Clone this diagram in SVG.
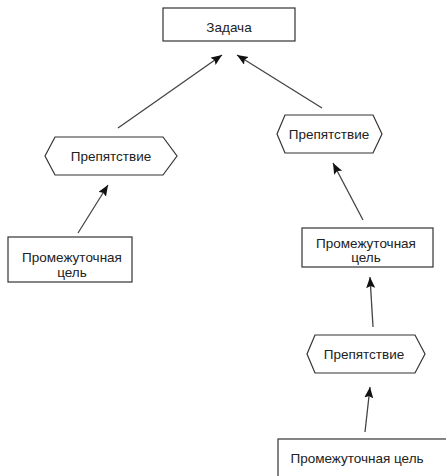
<svg xmlns="http://www.w3.org/2000/svg" width="446" height="476" viewBox="0 0 446 476">
<style>
.shape{fill:#fff;stroke:#333;stroke-width:1.2}
.lbl{font-family:"Liberation Sans",Arial,sans-serif;font-size:13.5px;fill:#222;text-anchor:middle}
.conn{stroke:#444;stroke-width:1.3;fill:none;marker-end:url(#ah)}
</style>
<defs>
<marker id="ah" markerUnits="userSpaceOnUse" markerWidth="12" markerHeight="10" refX="11" refY="4.5" orient="auto">
<path d="M0,0 L11,4.5 L0,9 L2,4.5 z" fill="#111"/>
</marker>
</defs>
<rect width="446" height="476" fill="#fff"/>
<g id="connectors">
<line class="conn" x1="78" y1="233" x2="108" y2="185"/>
<line class="conn" x1="118" y1="128" x2="222" y2="55"/>
<line class="conn" x1="322" y1="108" x2="237" y2="55"/>
<line class="conn" x1="363" y1="220" x2="333" y2="163"/>
<line class="conn" x1="373" y1="327" x2="370" y2="277"/>
<line class="conn" x1="365" y1="432" x2="370" y2="387"/>
</g>
<g id="task">
<rect class="shape" x="163" y="8" width="132" height="33"/>
<text class="lbl" x="229" y="32">Задача</text>
</g>
<g id="obstacle-left">
<polygon class="shape" points="45,156 55,137 163,137 177,156 163,175 55,175"/>
<text class="lbl" x="111" y="161">Препятствие</text>
</g>
<g id="goal-left">
<rect class="shape" x="8" y="237" width="124" height="45"/>
<text class="lbl" x="72" y="262">Промежуточная</text>
<text class="lbl" x="72" y="277">цель</text>
</g>
<g id="obstacle-right">
<polygon class="shape" points="277,134 285,115 373,115 382,134 373,153 285,153"/>
<text class="lbl" x="329" y="139">Препятствие</text>
</g>
<g id="goal-right">
<rect class="shape" x="302" y="228" width="131" height="39"/>
<text class="lbl" x="366" y="248">Промежуточная</text>
<text class="lbl" x="366" y="262">цель</text>
</g>
<g id="obstacle-bottom">
<polygon class="shape" points="307,354 315,335 415,335 425,354 415,373 315,373"/>
<text class="lbl" x="364" y="359">Препятствие</text>
</g>
<g id="goal-bottom">
<rect class="shape" x="278" y="439" width="180" height="50"/>
<text class="lbl" x="357" y="463">Промежуточная цель</text>
</g>
</svg>
